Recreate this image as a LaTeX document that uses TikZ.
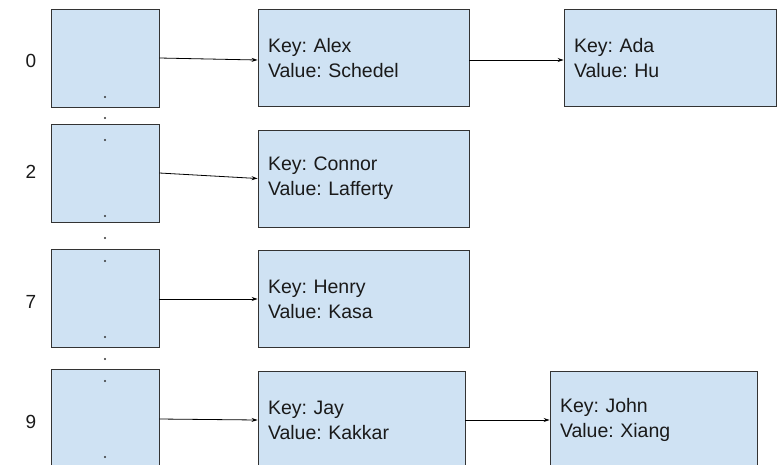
\documentclass[tikz,border=0pt]{standalone}
\usepackage{fontspec}
\setmainfont{Liberation Sans}
\usetikzlibrary{arrows.meta}
\definecolor{boxfill}{HTML}{CFE2F3}
\definecolor{boxline}{HTML}{333333}
\definecolor{txt}{HTML}{1A1A1A}
\tikzset{
  bucket/.style={draw=boxline, fill=boxfill, line width=0.9pt, minimum width=108pt, minimum height=98pt, inner sep=0pt},
  kvbox/.style={draw=boxline, fill=boxfill, line width=0.9pt, minimum height=97pt, inner xsep=10pt, inner ysep=0pt, align=left, text=txt, font=\fontsize{19.5}{25}\selectfont\frenchspacing},
  idx/.style={font=\fontsize{19}{22}\selectfont, text=txt, inner sep=0pt},
  link/.style={draw=black, line width=0.8pt, -{Stealth[length=6pt,width=4pt]}},
  dotmark/.style={fill=boxline, circle, inner sep=0pt, minimum size=2.4pt}
}
\begin{document}
\begin{tikzpicture}[x=1pt,y=-1pt]
\useasboundingbox (0,0) rectangle (783,464);
\clip (0,0) rectangle (783,464);
% buckets
\node[bucket] (b0) at (105,58) {};
\node[bucket] (b2) at (105,173) {};
\node[bucket] (b7) at (105,298) {};
\node[bucket] (b9) at (105,418) {};
% indices
\node[idx] (i0) at (31,61) {0};
\node[idx] (i2) at (31,172) {2};
\node[idx] (i7) at (31,302) {7};
\node[idx] (i9) at (31,422) {9};
% dots
\foreach \yy [count=\k] in {97,118,140,216,238,261,337,359,381,457}
  \node[dotmark] (d\k) at (105,\yy) {};
% key/value boxes
\node[kvbox, text width=191pt] (k0) at (363.5,58) {Key: Alex\\Value: Schedel};
\node[kvbox, text width=192pt] (k0b) at (670,58) {Key: Ada\\Value: Hu};
\node[kvbox, text width=191pt] (k2) at (363.5,178.5) {Key: Connor\\Value: Lafferty};
\node[kvbox, text width=191pt] (k7) at (363.5,299) {Key: Henry\\Value: Kasa};
\node[kvbox, text width=187pt] (k9) at (361.5,420) {Key: Jay\\Value: Kakkar};
\node[kvbox, text width=187pt] (k9b) at (653.5,420) {Key: John\\Value: Xiang};
% links
\draw[link] (b0.east) -- ([yshift=-2pt]k0.west);
\draw[link] ([yshift=-2pt]k0.east) -- ([yshift=-2pt]k0b.west);
\draw[link] (b2.east) -- (k2.west);
\draw[link] ([yshift=-1pt]b7.east) -- (k7.west);
\draw[link] ([yshift=-1pt]b9.east) -- (k9.west);
\draw[link] (k9.east) -- (k9b.west);
\end{tikzpicture}
\end{document}
